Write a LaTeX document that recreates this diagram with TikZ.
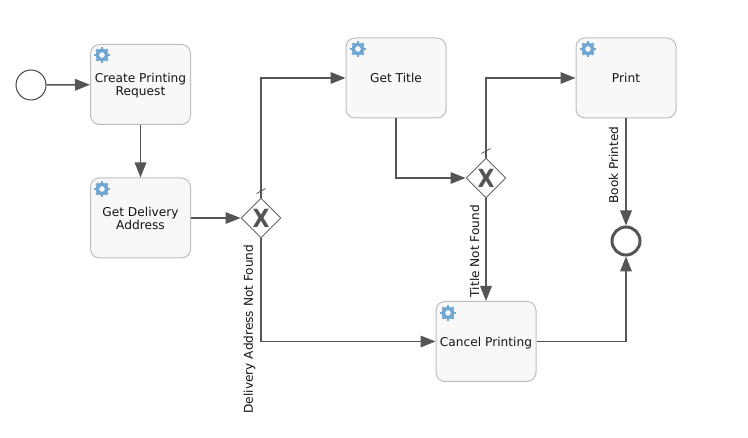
\documentclass[tikz,border=0pt]{standalone}
\usepackage{fontspec}
\setmainfont{DejaVu Sans}
\usetikzlibrary{shapes.geometric,arrows.meta}
\definecolor{flow}{HTML}{555555}
\definecolor{edge}{HTML}{BDBDBD}
\definecolor{fillt}{HTML}{F8F8F8}
\definecolor{gear}{HTML}{6FA6D2}
\newcommand{\dn}[1]{\raisebox{-5pt}[0pt][0pt]{\begin{tabular}{@{}c@{}}#1\end{tabular}}}
\newcommand{\narrowx}{\scalebox{0.88}[1]{X}}
\tikzset{
  x=1pt,y=-1pt,
  task/.style={draw=edge,fill=fillt,line width=1pt,rounded corners=9pt,minimum width=100pt,minimum height=80pt,inner sep=0pt,align=center,font=\fontsize{12.2}{13}\selectfont,text=black!92},
  gate/.style={draw=flow!90,fill=white,line width=0.9pt,diamond,aspect=1,minimum size=40pt,inner sep=0pt,font=\fontsize{25}{25}\selectfont\bfseries,text=flow},
  startev/.style={draw=flow!80!black,fill=white,line width=1pt,circle,minimum size=30pt,inner sep=0pt},
  endev/.style={draw=flow,fill=white,line width=3pt,circle,minimum size=28pt,inner sep=0pt},
  seq/.style={draw=flow,line width=1.6pt,-{Triangle[length=15pt,width=11.5pt,fill=flow]}},
  lab/.style={rotate=90,inner sep=0pt,font=\fontsize{12.15}{13}\selectfont,text=black!92},
  tick/.style={draw=flow,line width=0.8pt}
}
\newcommand{\gearat}[1]{%
  \begin{scope}[shift={#1}]
    \foreach \a in {0,45,...,315}{\draw[gear,line width=2.7pt] (\a:3.5) -- (\a:7.8);}
    \fill[gear,even odd rule] (0,0) circle (6.3) (0,0) circle (2.9);
  \end{scope}}
\begin{document}
\begin{tikzpicture}
\useasboundingbox (0,0) rectangle (748,438);
\node[startev] (start) at (31,85) {};
\node[task] (create) at (140.5,84.5) {\dn{Create Printing\\Request}};
\node[task] (addr) at (140.5,218) {\dn{Get Delivery\\Address}};
\node[task] (title) at (396,78) {\dn{Get Title}};
\node[task] (print) at (626,78) {\dn{Print}};
\node[task] (cancel) at (486,341.5) {\dn{Cancel Printing}};
\node[gate] (g1) at (261,218) {\narrowx};
\node[gate] (g2) at (486,178) {\narrowx};
\node[endev] (end) at (626,241) {};
\gearat{(102,55)}
\gearat{(102,189)}
\gearat{(358,49)}
\gearat{(588,49)}
\gearat{(448,313)}
\draw[seq] (start) -- (create);
\draw[seq] (create) -- (addr);
\draw[seq] (addr) -- (g1);
\draw[seq] (g1.north) |- (title.west);
\draw[seq] (title.south) |- (g2.west);
\draw[seq] (g2.north) |- (print.west);
\draw[seq] (g2.south) -- (cancel.north);
\draw[seq] (g1.south) |- (cancel.west);
\draw[seq] (print.south) -- (end.north);
\draw[seq] (cancel.east) -| (end.south);
\draw[tick] ([shift={(-4.5,-4)}]g1.north) -- ([shift={(4.5,-9)}]g1.north);
\draw[tick] ([shift={(-4.5,-4)}]g2.north) -- ([shift={(4.5,-9)}]g2.north);
\node[lab] (l1) at (249.5,329) {Delivery Address Not Found};
\node[lab] (l2) at (474.5,251) {Title Not Found};
\node[lab] (l3) at (613.5,165) {Book Printed};
\end{tikzpicture}
\end{document}
